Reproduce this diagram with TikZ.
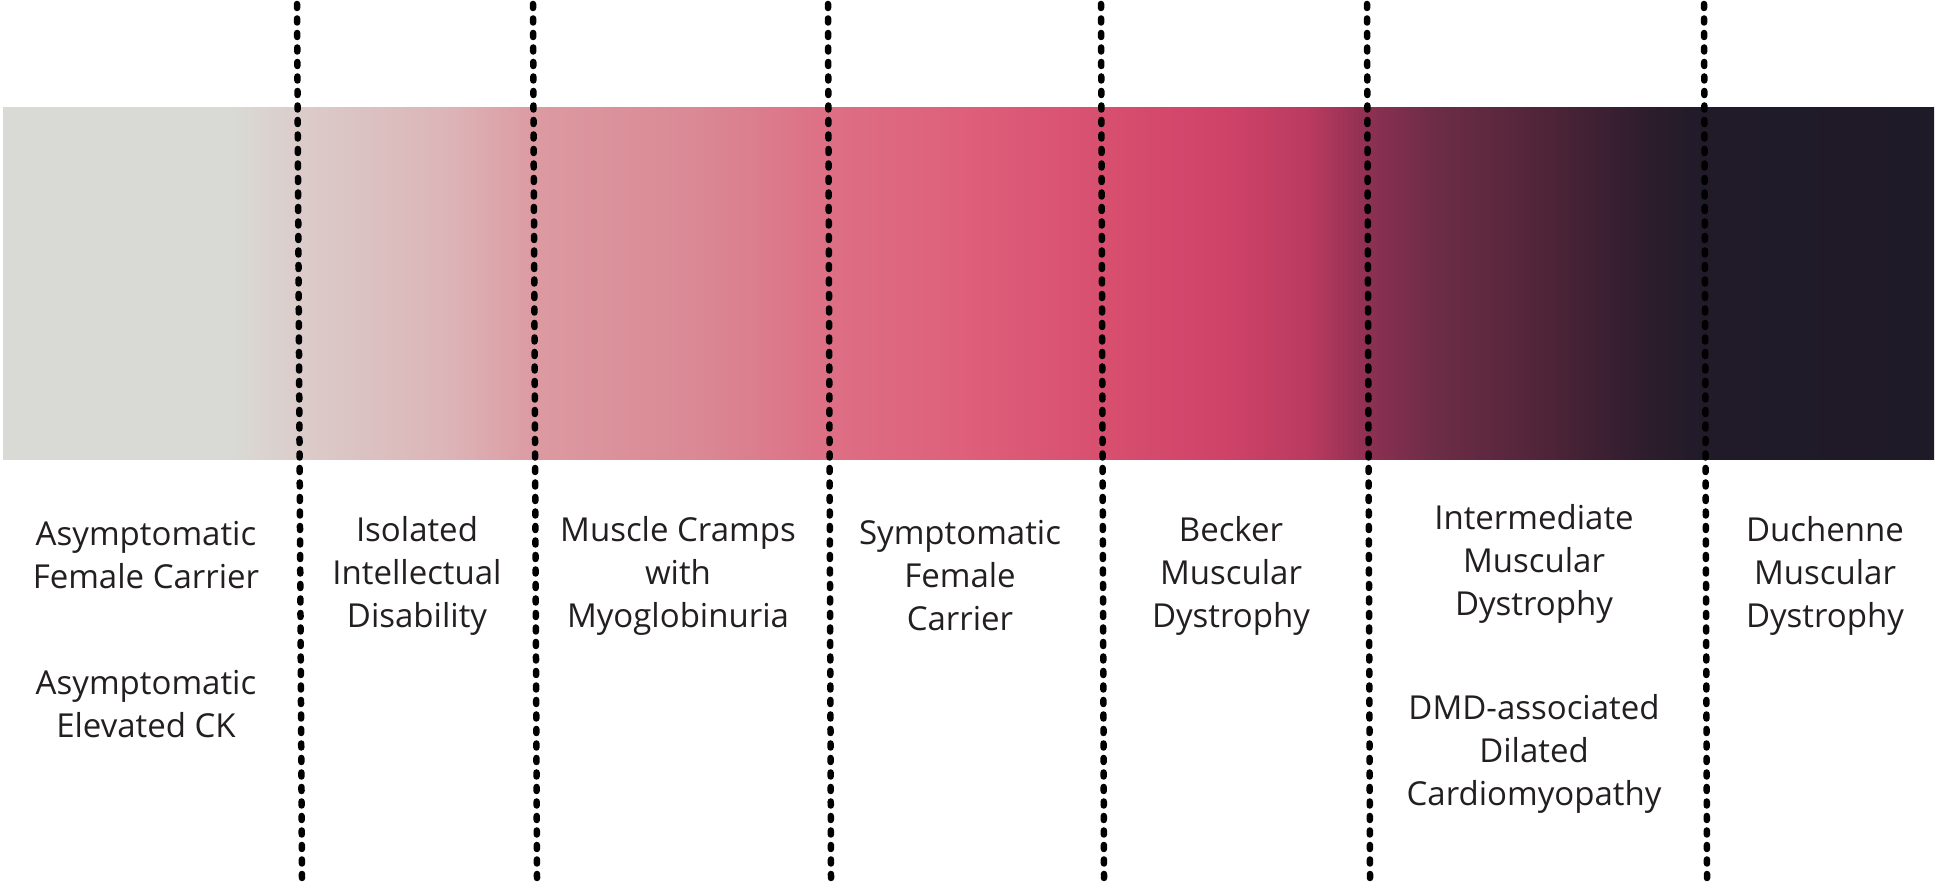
\documentclass[tikz,border=0pt]{standalone}
\usepackage{fontspec}
\setmainfont{Open Sans}
\definecolor{txt}{HTML}{231F20}
\definecolor{s01}{HTML}{D9DAD5}
\definecolor{s02}{HTML}{D9DAD5}
\definecolor{s03}{HTML}{DBCCCA}
\definecolor{s04}{HTML}{DCB4B7}
\definecolor{s05}{HTML}{DC9AA1}
\definecolor{s06}{HTML}{DA8894}
\definecolor{s07}{HTML}{DD6F84}
\definecolor{s08}{HTML}{DE5F7A}
\definecolor{s09}{HTML}{D84F6F}
\definecolor{s10}{HTML}{CE4268}
\definecolor{s11}{HTML}{B93A60}
\definecolor{s12}{HTML}{8E3052}
\definecolor{s13}{HTML}{6E2D47}
\definecolor{s14}{HTML}{4E2438}
\definecolor{s15}{HTML}{2F1D2D}
\definecolor{s16}{HTML}{211B29}
\definecolor{s17}{HTML}{1F1A28}
\tikzset{
  lbl/.style={align=center, text=txt, inner sep=0pt,
    font=\fontsize{33}{43}\selectfont},
  divider/.style={line width=6.5pt, line cap=round, dash pattern=on 4pt off 10.5pt, black}
}
\begin{document}
\begin{tikzpicture}[x=1pt,y=-1pt]
\useasboundingbox (0,0) rectangle (1939,882);
\fill[white] (0,0) rectangle (1939,882);
% gradient bar
\def\bt{108}\def\bb{460}
\shade[left color=s01,right color=s02] (3,\bt) rectangle (230.5,\bb);
\shade[left color=s02,right color=s03] (230,\bt) rectangle (300.5,\bb);
\shade[left color=s03,right color=s04] (300,\bt) rectangle (450.5,\bb);
\shade[left color=s04,right color=s05] (450,\bt) rectangle (534.5,\bb);
\shade[left color=s05,right color=s06] (534,\bt) rectangle (700.5,\bb);
\shade[left color=s06,right color=s07] (700,\bt) rectangle (829.5,\bb);
\shade[left color=s07,right color=s08] (829,\bt) rectangle (969.5,\bb);
\shade[left color=s08,right color=s09] (969,\bt) rectangle (1100.5,\bb);
\shade[left color=s09,right color=s10] (1100,\bt) rectangle (1230.5,\bb);
\shade[left color=s10,right color=s11] (1230,\bt) rectangle (1310.5,\bb);
\shade[left color=s11,right color=s12] (1310,\bt) rectangle (1367.5,\bb);
\shade[left color=s12,right color=s13] (1367,\bt) rectangle (1430.5,\bb);
\shade[left color=s13,right color=s14] (1430,\bt) rectangle (1550.5,\bb);
\shade[left color=s14,right color=s15] (1550,\bt) rectangle (1640.5,\bb);
\shade[left color=s15,right color=s16] (1640,\bt) rectangle (1700.5,\bb);
\shade[left color=s16,right color=s17] (1700,\bt) rectangle (1934,\bb);
% dividers
\coordinate (d1t) at (297,4);  \coordinate (d1b) at (302,878);
\coordinate (d2t) at (533,4);  \coordinate (d2b) at (537,878);
\coordinate (d3t) at (828,4);  \coordinate (d3b) at (831,878);
\coordinate (d4t) at (1101,4); \coordinate (d4b) at (1104,878);
\coordinate (d5t) at (1367,4); \coordinate (d5b) at (1370,878);
\coordinate (d6t) at (1704,4); \coordinate (d6b) at (1707,878);
\foreach \i in {1,...,6} \draw[divider] (d\i t) -- (d\i b);
% labels
\node[lbl] (afc) at (146,555) {Asymptomatic\\Female Carrier};
\node[lbl] (aec) at (146,704) {Asymptomatic\\Elevated CK};
\node[lbl] (iid) at (417,576) {Isolated\\Intellectual\\Disability};
\node[lbl] (mcm) at (678,576) {Muscle Cramps\\with\\Myoglobinuria};
\node[lbl] (sfc) at (960,576) {Symptomatic\\Female\\Carrier};
\node[lbl] (bmd) at (1231,576) {Becker\\Muscular\\Dystrophy};
\node[lbl] (imd) at (1534,564) {Intermediate\\Muscular\\Dystrophy};
\node[lbl] (dcm) at (1534,754) {DMD-associated\\Dilated\\Cardiomyopathy};
\node[lbl] (dmd) at (1825,576) {Duchenne\\Muscular\\Dystrophy};
\end{tikzpicture}
\end{document}
